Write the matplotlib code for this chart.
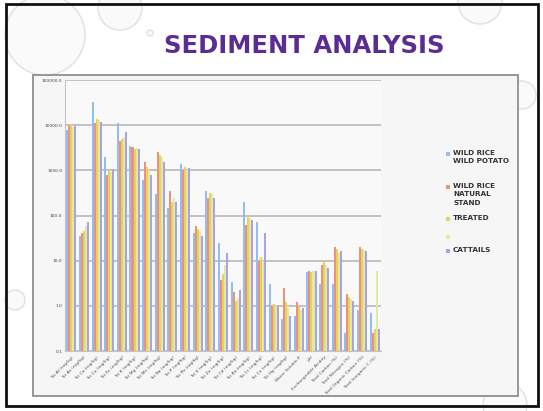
import matplotlib
matplotlib.use("Agg")
import matplotlib.pyplot as plt
import numpy as np
from matplotlib.patches import Rectangle, Ellipse
from matplotlib.ticker import FixedLocator, FixedFormatter

W, H = 543, 411

categories = [
    "Tot Al (mg/kg)", "Tot As (mg/kg)", "Tot Ca (mg/kg)", "Tot Cu (mg/kg)",
    "Tot Fe (mg/kg)", "Tot K (mg/kg)", "Tot Mg (mg/kg)", "Tot Mn (mg/kg)",
    "Tot Na (mg/kg)", "Tot P (mg/kg)", "Tot Pb (mg/kg)", "Tot S (mg/kg)",
    "Tot Zn (mg/kg)", "Tot Cd (mg/kg)", "Tot Ba (mg/kg)", "Tot Cr (mg/kg)",
    "Tot Co (mg/kg)", "Tot Hg (mg/kg)", "Water Soluble P", "pH",
    "Exchangeable Acidity", "Total Carbon (%)", "Total Nitrogen (%)",
    "Total Organic Carbon (%)", "Total Inorganic C (%)",
]

wild_rice_potato = [8000, 35, 32000, 2000, 11000, 3500, 600, 300, 150, 1400,
                    40, 350, 25, 3.4, 200, 72, 3.1, 0.5, 0.6, 5.6,
                    3.0, 3.0, 0.25, 0.8, 0.7]
wild_rice_natural = [9500, 40, 11000, 800, 4500, 3300, 1500, 2500, 350, 1000,
                     60, 250, 3.7, 2.0, 62, 10, 1.0, 2.5, 1.2, 6.0,
                     8.0, 20, 1.8, 20, 0.25]
treated = [10000, 45, 14000, 1000, 5000, 3000, 1200, 2200, 200, 1200,
           50, 320, 5.0, 1.3, 100, 12, 1.1, 1.2, 1.0, 5.5,
           9.5, 18, 1.6, 18, 0.3]
unnamed = [9000, 60, 13000, 900, 5500, 3200, 1000, 2000, 250, 1000,
           45, 300, 8.0, 1.5, 90, 10, 1.0, 1.0, 0.8, 6.0,
           8.0, 15, 1.4, 17, 6.0]
cattails = [9500, 70, 12000, 1000, 7000, 3000, 800, 1500, 200, 1100,
            35, 250, 15, 2.2, 80, 40, 1.0, 0.6, 0.9, 6.0,
            7.0, 16, 1.3, 16, 0.3]

series = [wild_rice_potato, wild_rice_natural, treated, unnamed, cattails]
colors = ["#93bdf0", "#f0907a", "#e6d35a", "#dfeaa8", "#a9a2e6"]

yticks = [0.1, 1, 10, 100, 1000, 10000, 100000]
ytick_labels = ["0.1", "1.0", "10.0", "100.0", "1000.0", "10000.0", "100000.0"]

fig = plt.figure(figsize=(W / 100, H / 100), dpi=100)
fig.patch.set_facecolor("white")

def fx(x):
    return x / W

def fy(y):
    return 1 - y / H

# decorative bubbles
for (cx, cy, r) in [(45, 35, 40), (120, 8, 22), (150, 33, 3), (480, 2, 22),
                    (522, 95, 14), (505, 405, 22), (15, 300, 10)]:
    fig.add_artist(Ellipse((fx(cx), fy(cy)), 2 * r / W, 2 * r / H,
                           transform=fig.transFigure, facecolor="#fafafa",
                           edgecolor="#e0e0e0", lw=1.0, zorder=0))

# slide border
fig.add_artist(Rectangle((fx(6), fy(406)), fx(538) - fx(6), fy(4) - fy(406),
                         transform=fig.transFigure, fill=False,
                         edgecolor="#111111", lw=2.0, zorder=1))

# chart frame
fig.add_artist(Rectangle((fx(33), fy(396)), fx(518) - fx(33), fy(75) - fy(396),
                         transform=fig.transFigure, facecolor="#f6f6f6",
                         edgecolor="#8f8f8f", lw=1.3, zorder=1))

fig.text(fx(304), fy(46), "SEDIMENT ANALYSIS", ha="center", va="center",
         fontsize=17.5, fontweight="heavy", color="#5b2c91",
         family="DejaVu Sans", zorder=5)

ax = fig.add_axes([fx(65), fy(351), fx(381) - fx(65), fy(80) - fy(351)])
ax.set_zorder(3)
ax.set_facecolor("#f9f9f9")
ax.set_yscale("log")

n = len(categories)
x = np.arange(n)
nb = len(series)
bw = 0.16
for i, (vals, c) in enumerate(zip(series, colors)):
    ax.bar(x + (i - (nb - 1) / 2) * bw, vals, width=bw, color=c,
           edgecolor="none", zorder=2)

ax.set_ylim(0.1, 100000)
ax.set_xlim(-0.5, n - 0.5)
ax.yaxis.set_major_locator(FixedLocator(yticks))
ax.yaxis.set_major_formatter(FixedFormatter(ytick_labels))
ax.yaxis.set_minor_locator(FixedLocator([]))
ax.grid(axis="y", color="#bdbdbd", lw=1.3, zorder=0)
ax.set_axisbelow(True)
ax.tick_params(axis="y", labelsize=3.2, colors="#444444", length=0, pad=2)
ax.set_xticks(x)
ax.set_xticklabels(categories, rotation=45, ha="right",
                   rotation_mode="anchor", fontsize=3.2, color="#555555")
ax.tick_params(axis="x", length=0, pad=3)
for s in ["top", "right"]:
    ax.spines[s].set_visible(False)
ax.spines["left"].set_color("#c4c4c4")
ax.spines["bottom"].set_color("#c4c4c4")

# legend
legend_entries = [
    ("WILD RICE\nWILD POTATO", colors[0], 154),
    ("WILD RICE\nNATURAL\nSTAND", colors[1], 187),
    ("TREATED", colors[2], 219),
    ("", colors[3], 237),
    ("CATTAILS", colors[4], 251),
]
for label, c, yy in legend_entries:
    fig.add_artist(Rectangle((fx(446), fy(yy + 2)), 4 / W, 4 / H,
                             transform=fig.transFigure, facecolor=c,
                             edgecolor="none", zorder=5))
    fig.text(fx(453), fy(yy - 4), label, ha="left", va="top", fontsize=5.2,
             fontweight="bold", color="#333333", linespacing=1.45, zorder=5)

fig.savefig("out.png", dpi=100, facecolor="white")
